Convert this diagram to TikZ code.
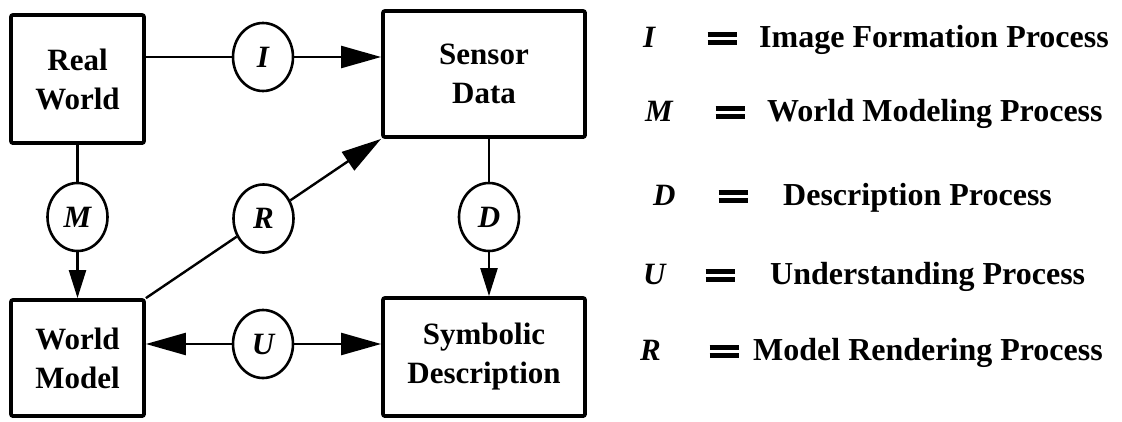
\documentclass[tikz,border=0pt]{standalone}
\usepackage{fontspec}
\setmainfont{Liberation Serif}
\usetikzlibrary{arrows.meta,shapes.geometric,calc}

% a heavy, wide equals sign built from two bars
\newcommand{\heavyeq}{\makebox[29pt][l]{\raisebox{2.5pt}{\rule{29pt}{4.6pt}}\hspace{-29pt}\raisebox{10.5pt}{\rule{29pt}{4.6pt}}}}

\begin{document}
\begin{tikzpicture}[x=1pt,y=-1pt,
  block/.style={draw, line width=3.8pt, rounded corners=2pt, inner sep=0pt,
    align=center, font=\fontsize{31}{39}\selectfont\bfseries},
  proc/.style={draw, ellipse, line width=2.6pt, minimum width=60pt,
    minimum height=68pt, inner sep=0pt,
    font=\fontsize{31}{31}\selectfont\bfseries\itshape},
  link/.style={line width=2.4pt},
  bigtip/.style={-{Triangle[length=40pt,width=22pt]}},
  smalltip/.style={-{Triangle[length=28pt,width=17pt]}},
  sym/.style={anchor=base west, inner sep=0pt,
    font=\fontsize{31}{31}\selectfont\bfseries\itshape},
  eqs/.style={anchor=base, inner sep=0pt},
  desc/.style={anchor=base west, inner sep=0pt,
    font=\fontsize{32}{32}\selectfont\bfseries}
]
\useasboundingbox[fill=white] (0,0) rectangle (1122,421);

% the four stages
\node[block, minimum width=133pt, minimum height=128pt] (rw) at (77.5,79) {Real\\World};
\node[block, minimum width=202pt, minimum height=126pt] (sd) at (484,74) {Sensor\\Data};
\node[block, minimum width=133pt, minimum height=116pt] (wm) at (77.5,358) {World\\Model};
\node[block, minimum width=202pt, minimum height=118pt] (sy) at (484,357) {Symbolic\\Description};

% the processes linking them
\node[proc] (I) at (263,57) {I};
\node[proc] (M) at (77.5,217) {M};
\node[proc] (D) at (489,217) {D};
\node[proc] (U) at (263,344) {U};
\path ($(wm.north east)!0.5!(sd.south west)$) node[proc] (R) {R};

\draw[link] (rw.east |- I) -- (I);
\draw[link,bigtip] (I) -- (I -| sd.west);

\draw[link] (rw.south) -- (M);
\draw[link,smalltip] (M) -- (wm.north);

\draw[link] (sd.south -| D) -- (D);
\draw[link,smalltip] (D) -- (D |- sy.north);

\draw[link] (wm.north east) -- (R);
\draw[link,bigtip] (R) -- (sd.south west);

\draw[link,bigtip] (U) -- (wm.east |- U);
\draw[link,bigtip] (U) -- (U -| sy.west);

% legend
\node[sym] (kI) at (643,47) {I};
\node[eqs] (eI) at (722,47) {\heavyeq};
\node[desc] (tI) at (759,47) {Image Formation Process};

\node[sym] (kM) at (645,121) {M};
\node[eqs] (eM) at (730,121) {\heavyeq};
\node[desc] (tM) at (767,121) {World Modeling Process};

\node[sym] (kD) at (653,205) {D};
\node[eqs] (eD) at (733,205) {\heavyeq};
\node[desc] (tD) at (783,205) {Description Process};

\node[sym] (kU) at (643,284) {U};
\node[eqs] (eU) at (720,284) {\heavyeq};
\node[desc] (tU) at (770,284) {Understanding Process};

\node[sym] (kR) at (640,360) {R};
\node[eqs] (eR) at (724,360) {\heavyeq};
\node[desc] (tR) at (753,360) {Model Rendering Process};
\end{tikzpicture}
\end{document}
